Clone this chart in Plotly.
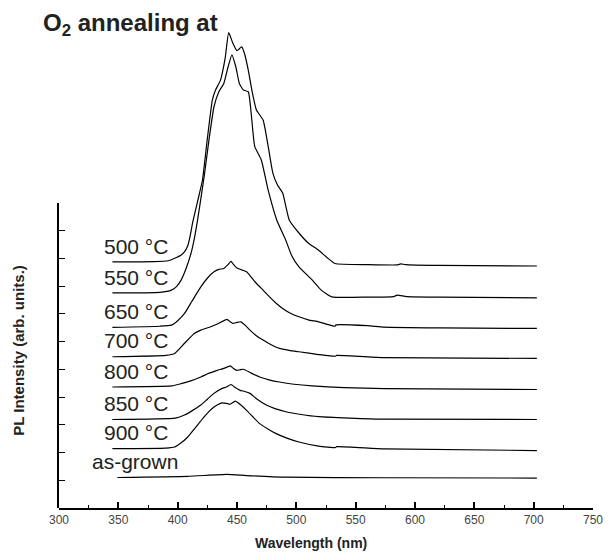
import plotly.graph_objects as go

# ---------------- data ----------------
labels = ["500 °C", "550 °C", "650 °C", "700 °C", "800 °C", "850 °C", "900 °C", "as-grown"]

wl_500 = [345, 380, 392, 397.5, 403, 406, 408.5, 410.5, 412.7, 416.8, 420.9, 425, 429.2, 431.9, 436.1, 440,
          443, 446.5, 449.9, 454, 456.5, 459.5, 463, 466.4, 472, 476, 480.2, 484, 488.5, 494, 502.2, 510,
          518.8, 526, 532.6, 560, 585, 588, 592, 620, 702.7]
pl_500 = [8.87, 8.88, 8.91, 9.00, 9.12, 9.25, 9.45, 9.80, 10.30, 11.05, 11.82, 13.3, 14.70, 15.06, 15.42, 16.2,
          17.13, 16.75, 16.48, 16.62, 16.35, 15.78, 14.95, 14.34, 13.98, 13.1, 12.07, 11.65, 11.35, 10.38, 9.91,
          9.55, 9.29, 9.02, 8.81, 8.77, 8.76, 8.80, 8.77, 8.74, 8.72]

wl_550 = [345, 385, 394.7, 399, 403, 407, 411.2, 414, 416.8, 422.3, 426.5, 430.6, 434.7, 438.9, 442.5, 445.7,
          449, 452, 455.4, 459.5, 462, 465, 470.5, 476, 483.5, 491.2, 496, 502.2, 513.3, 521, 529.9, 560,
          582, 585, 593, 620, 702.7]
pl_550 = [7.75, 7.77, 7.85, 7.98, 8.22, 8.62, 9.17, 9.70, 10.38, 11.94, 13.3, 14.46, 15.00, 15.30, 15.9, 16.33,
          15.9, 15.3, 15.06, 15.00, 14.2, 13.02, 12.54, 11.5, 10.38, 9.64, 9.1, 8.69, 8.22, 7.85, 7.61, 7.60,
          7.62, 7.67, 7.62, 7.60, 7.57]

wl_650 = [345, 385, 394.7, 400, 405.8, 412, 419.5, 425, 430.6, 434.7, 438.9, 442, 444.9, 447, 449.9, 454,
          458.1, 462, 466.4, 472, 477.4, 483, 488.5, 495, 502.2, 510, 518.8, 526, 532.6, 533.5, 560, 573.9,
          620, 702.7]
pl_650 = [6.51, 6.55, 6.59, 6.75, 7.01, 7.45, 7.97, 8.28, 8.51, 8.60, 8.63, 8.75, 8.89, 8.78, 8.65, 8.58,
          8.51, 8.32, 8.09, 7.85, 7.61, 7.38, 7.19, 7.02, 6.89, 6.78, 6.71, 6.62, 6.55, 6.60, 6.57, 6.52,
          6.49, 6.47]

wl_700 = [345, 390, 397.5, 405, 414, 420, 427.8, 434, 441.6, 444, 446.6, 450, 453.2, 457, 460.9, 466,
          472, 478, 485.7, 494, 502.2, 518.8, 533, 534, 573.9, 702.7]
pl_700 = [5.45, 5.50, 5.57, 5.90, 6.29, 6.42, 6.53, 6.64, 6.80, 6.72, 6.65, 6.69, 6.71, 6.58, 6.41, 6.22,
          6.05, 5.90, 5.75, 5.68, 5.63, 5.53, 5.47, 5.50, 5.42, 5.39]

wl_800 = [345, 395, 403, 411, 419.5, 426, 433.3, 439, 444.3, 447, 449.9, 452.5, 455.4, 462, 469.1, 477,
          485.7, 498, 513.3, 540, 573.9, 702.7]
pl_800 = [4.36, 4.40, 4.48, 4.58, 4.72, 4.85, 4.96, 5.03, 5.12, 5.03, 4.96, 4.98, 5.00, 4.86, 4.72, 4.62,
          4.54, 4.46, 4.40, 4.34, 4.30, 4.27]

wl_850 = [345, 398, 405.8, 412, 419.5, 425, 430.6, 437.5, 441, 444.9, 448.5, 452.6, 456.5, 460.9, 467,
          474.7, 482, 491.2, 504, 518.8, 573.9, 702.7]
pl_850 = [3.19, 3.24, 3.35, 3.50, 3.71, 3.92, 4.13, 4.31, 4.36, 4.45, 4.34, 4.24, 4.20, 4.13, 3.92,
          3.71, 3.58, 3.47, 3.37, 3.29, 3.20, 3.19]

wl_900 = [345, 390, 397.5, 403, 408.5, 415, 422.3, 426.5, 430.6, 434, 437.5, 441, 444.3, 448.5, 453,
          458.1, 463.5, 469.1, 476, 483, 492, 502.2, 518.8, 533, 534, 573.9, 702.7]
pl_900 = [2.14, 2.16, 2.20, 2.35, 2.56, 2.90, 3.28, 3.48, 3.64, 3.73, 3.79, 3.77, 3.74, 3.85, 3.72,
          3.52, 3.28, 3.04, 2.85, 2.68, 2.52, 2.38, 2.23, 2.18, 2.21, 2.13, 2.07]

wl_asgrown = [349.2, 408.5, 441.6, 458.1, 491.2, 573.9, 702.7]
pl_asgrown = [1.10, 1.14, 1.21, 1.17, 1.11, 1.09, 1.08]

series_wl = [wl_500, wl_550, wl_650, wl_700, wl_800, wl_850, wl_900, wl_asgrown]
series_pl = [pl_500, pl_550, pl_650, pl_700, pl_800, pl_850, pl_900, pl_asgrown]

x_range = [300, 750]
axis_units = 11

# ---------------- figure ----------------
# the page body has an 8px margin, so the figure is placed at (8, 8)
OFF = 8
W, H = 613 - OFF, 553 - OFF
ML, MR, MT, MB = 59 - OFF, 10, 20 - OFF, 45
plot_w = W - ML - MR
plot_h = H - MT - MB
px_per_unit = 27.75
y_top = plot_h / px_per_unit
FONT = "Liberation Sans, Arial, sans-serif"


def px(xp):
    return (xp - OFF - ML) / plot_w


def py(yp):
    return (H - MB - (yp - OFF)) / plot_h


fig = go.Figure()
for wl, pl in zip(series_wl, series_pl):
    fig.add_trace(go.Scatter(x=wl, y=pl, mode="lines",
                             line=dict(color="black", width=1.2, shape="spline", smoothing=0.45),
                             showlegend=False, hoverinfo="skip"))

# invisible trace to create the short left axis
fig.add_trace(go.Scatter(x=[None], y=[None], xaxis="x", yaxis="y2", showlegend=False))

annotations = []
for lab, wl, pl in zip(labels, series_wl, series_pl):
    annotations.append(dict(
        x=326 if lab == "as-grown" else 336, y=pl[0] + 0.57, xref="x", yref="y",
        text=lab, showarrow=False, xanchor="left", yanchor="middle",
        font=dict(family=FONT, size=21, color="#222")))

annotations.append(dict(
    x=px(41), y=py(24), xref="paper", yref="paper",
    text="<b>O<sub>2</sub> annealing at</b>", showarrow=False, xanchor="left", yanchor="middle",
    font=dict(family=FONT, size=24, color="#222")))
annotations.append(dict(
    x=px(316), y=py(543), xref="paper", yref="paper",
    text="<b>Wavelength (nm)</b>", showarrow=False, xanchor="center", yanchor="middle",
    font=dict(family=FONT, size=14, color="#222")))
annotations.append(dict(
    x=px(17), y=py(350), xref="paper", yref="paper",
    text="<b>PL Intensity (arb. units.)</b>", showarrow=False, textangle=-90,
    xanchor="center", yanchor="middle",
    font=dict(family=FONT, size=15, color="#222")))

fig.update_layout(
    width=W, height=H,
    margin=dict(l=ML, r=MR, t=MT, b=MB),
    paper_bgcolor="white", plot_bgcolor="rgba(0,0,0,0)",
    font=dict(family=FONT, color="#222"),
    annotations=annotations,
    xaxis=dict(range=x_range, domain=[0, 1], anchor="y", showgrid=False, zeroline=False,
               showline=True, linecolor="black", linewidth=1.5,
               ticks="inside", ticklen=6, tickwidth=1.5, tickcolor="black", dtick=50, tick0=300,
               ticklabeloverflow="allow",
               minor=dict(ticks="inside", ticklen=3, tickwidth=1.2, tickcolor="black", dtick=25, showgrid=False),
               tickfont=dict(family=FONT, size=12, color="#444")),
    yaxis=dict(range=[0, y_top], domain=[0, 1], visible=False, fixedrange=True),
    yaxis2=dict(range=[0, axis_units], domain=[0, axis_units * px_per_unit / plot_h], anchor="x",
                showgrid=False, zeroline=False, showline=True, linecolor="black", linewidth=1.5,
                ticks="inside", ticklen=6, tickwidth=1.2, tickcolor="black", dtick=1, tick0=0,
                showticklabels=False),
)

fig.write_html("out.html")
